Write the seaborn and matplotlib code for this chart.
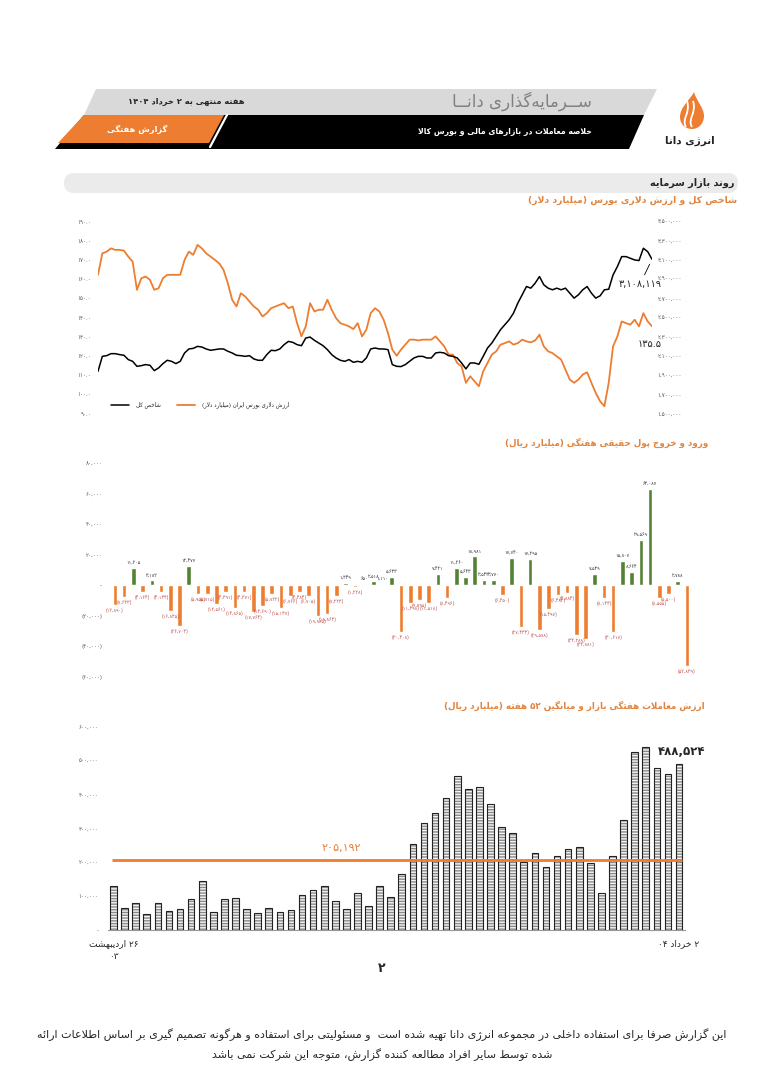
import re
import numpy as np
import pandas as pd
import seaborn as sns
import matplotlib.pyplot as plt
from matplotlib.path import Path
from matplotlib.patches import Polygon, PathPatch, FancyBboxPatch, Rectangle
from matplotlib.ticker import FuncFormatter, MultipleLocator

# ---------------- data ----------------
# total index (thousands of points), right axis
index_k = [1940, 2096, 2103, 2124, 2124, 2114, 2107, 2062, 2044, 1992,
           1999, 2010, 2003, 1947, 1975, 2020, 2055, 2044, 2020, 2044,
           2131, 2173, 2179, 2200, 2193, 2173, 2159, 2166, 2173, 2173,
           2149, 2131, 2107, 2103, 2096, 2103, 2069, 2055, 2055, 2114,
           2159, 2155, 2173, 2218, 2252, 2242, 2218, 2207, 2287, 2297,
           2263, 2235, 2207, 2166, 2114, 2079, 2055, 2044, 2062, 2034,
           2044, 2034, 2079, 2173, 2183, 2173, 2173, 2166, 2010, 1992,
           1989, 2010, 2044, 2079, 2096, 2096, 2079, 2079, 2131, 2138,
           2131, 2103, 2096, 2079, 2027, 1965, 2027, 2027, 2013, 2096,
           2183, 2235, 2304, 2374, 2426, 2478, 2547, 2651, 2738, 2824,
           2807, 2859, 2928, 2842, 2807, 2790, 2807, 2790, 2807, 2755,
           2703, 2738, 2790, 2824, 2755, 2703, 2727, 2790, 2796, 2945,
           3032, 3136, 3136, 3119, 3101, 3095, 3223, 3188, 3108.119]
# dollar value of the Iranian bourse (billion USD), left axis
dollar_value = [162.3, 173.5, 174.4, 176.1, 175.3, 175.3, 174.9, 171.8, 169.2, 154.5,
                160.5, 161.4, 159.7, 154.5, 155.3, 160.5, 162.3, 162.3, 162.3, 162.3,
                170.1, 174.4, 172.7, 177.9, 176.1, 173.5, 171.8, 170.1, 168.3, 164.9,
                157.9, 149.3, 145.8, 152.7, 151.0, 148.4, 145.8, 144.1, 140.6, 142.3,
                144.9, 145.8, 146.7, 147.5, 144.9, 145.8, 137.1, 130.2, 135.4, 147.5,
                143.2, 144.1, 144.1, 149.3, 144.1, 139.7, 137.1, 136.3, 135.4, 134.0,
                137.1, 130.2, 133.7, 142.3, 144.9, 143.2, 138.9, 131.9, 123.3, 120.1,
                123.3, 125.9, 128.5, 128.5, 128.1, 128.5, 128.5, 128.5, 130.2, 127.6,
                125.0, 120.7, 120.7, 116.3, 114.6, 106.0, 109.4, 106.8, 104.2, 112.0,
                116.3, 120.7, 122.4, 125.9, 126.7, 127.6, 125.9, 126.7, 128.5, 127.6,
                127.1, 128.1, 131.1, 125.0, 122.4, 121.5, 119.8, 118.1, 112.9, 107.7,
                106.0, 107.7, 110.3, 111.5, 106.0, 100.7, 96.4, 93.8, 106.0, 125.0,
                130.2, 138.0, 137.1, 136.3, 138.9, 135.4, 142.3, 138.0, 135.5]
left_ticks = [90, 100, 110, 120, 130, 140, 150, 160, 170, 180, 190]
right_ticks = [1_500_000, 1_700_000, 1_900_000, 2_100_000, 2_300_000, 2_500_000,
               2_700_000, 2_900_000, 3_100_000, 3_300_000, 3_500_000]

# weekly retail money flow (billion rials)
flow_values = [-12890, -7633, 11205, -4164, 3182, -4134, -16835, -26703, 12477, -5955,
               -5715, -12561, -4391, -14865, -4371, -17764, -13690, -5722, -15137, -6766,
               -4484, -6705, -19885, -18863, -7223, 1349, -1228, 650, 2518, 1110,
               5633, -30408, -11498, -9795, -11518, 7421, -8496, 11260, 5643, 18981,
               3543, 3770, -6450, 17740, -27433, 17295, -29578, -15497, -6484, -4884,
               -32288, -34881, 7539, -8133, -30617, 15807, 8664, 29569, 63087, -8555,
               -5500, 2788, -52839]

# weekly trade value (billion rials) and its 52-week mean
trade_values = [130800, 63900, 78700, 47200, 80600, 56000, 62000, 91400, 144500, 54100,
                91400, 93400, 61000, 49200, 65900, 54100, 59000, 103200, 118000, 130800,
                86500, 61000, 108200, 69800, 129800, 98300, 164000, 253700, 314700, 346100,
                388400, 455300, 415900, 420800, 370700, 302800, 285100, 201600, 226200, 186800,
                218300, 237900, 245800, 196700, 108200, 218300, 324500, 524100, 540800, 478900,
                460200, 488524]
trade_avg = 205192
first_week = '۲۶ اردیبهشت'
first_year = '۰۳'
last_week = '۲ خرداد ۰۴'

ORANGE = '#ed7d31'
GREEN = '#548235'
TITLE = '#e2843d'
RED = '#c0504d'
TICK = '#595959'

# ---------------- tiny arabic shaper (matplotlib has no shaping / bidi) ----------------
DUAL = {'ئ': 0xFE89, 'ب': 0xFE8F, 'ت': 0xFE95, 'ث': 0xFE99, 'ج': 0xFE9D, 'ح': 0xFEA1,
        'خ': 0xFEA5, 'س': 0xFEB1, 'ش': 0xFEB5, 'ص': 0xFEB9, 'ض': 0xFEBD, 'ط': 0xFEC1,
        'ظ': 0xFEC5, 'ع': 0xFEC9, 'غ': 0xFECD, 'ف': 0xFED1, 'ق': 0xFED5, 'ك': 0xFED9,
        'ل': 0xFEDD, 'م': 0xFEE1, 'ن': 0xFEE5, 'ه': 0xFEE9, 'ي': 0xFEF1, 'پ': 0xFB56,
        'چ': 0xFB7A, 'ک': 0xFB8E, 'گ': 0xFB92, 'ی': 0xFBFC}
RIGHT = {'آ': 0xFE81, 'أ': 0xFE83, 'ؤ': 0xFE85, 'إ': 0xFE87, 'ا': 0xFE8D, 'ة': 0xFE93,
         'د': 0xFEA9, 'ذ': 0xFEAB, 'ر': 0xFEAD, 'ز': 0xFEAF, 'و': 0xFEED, 'ى': 0xFEEF,
         'ژ': 0xFB8A}
TATWEEL = 'ـ'
FA_DIGITS = str.maketrans('0123456789', '۰۱۲۳۴۵۶۷۸۹')
MIRROR = str.maketrans('()', ')(')
NUM = re.compile(r'([0-9۰-۹][0-9۰-۹,.]*[0-9۰-۹]|[0-9۰-۹])')


def joins_next(c):
    return c in DUAL or c == TATWEEL


def joins_prev(c):
    return c in DUAL or c in RIGHT or c == TATWEEL


def shape(s):
    out, i, n = [], 0, len(s)
    while i < n:
        c = s[i]
        prev = s[i - 1] if i > 0 else ''
        cp = bool(prev) and joins_next(prev) and joins_prev(c)
        if c == 'ل' and i + 1 < n and s[i + 1] in 'اآ':
            base = 0xFEFB if s[i + 1] == 'ا' else 0xFEF5
            out.append(chr(base + (1 if cp else 0)))
            i += 2
            continue
        nxt = s[i + 1] if i + 1 < n else ''
        cn = bool(nxt) and joins_next(c) and joins_prev(nxt)
        if c in DUAL:
            form = 3 if (cp and cn) else 1 if cp else 2 if cn else 0
            out.append(chr(DUAL[c] + form))
        elif c in RIGHT:
            out.append(chr(RIGHT[c] + (1 if cp else 0)))
        elif c != '\u200c':
            out.append(c)
        i += 1
    return ''.join(out)


def fa(s):
    parts = NUM.split(shape(s.translate(FA_DIGITS)))
    vis = [p if k % 2 else p[::-1].translate(MIRROR) for k, p in enumerate(parts)]
    return ''.join(vis[::-1])


def fa_num(s):
    return s.translate(FA_DIGITS)


# ---------------- page ----------------
sns.set_style('white')
plt.rcParams['font.family'] = ['DejaVu Sans']

fig = plt.figure(figsize=(7.64, 10.8), dpi=100)
bg = fig.add_axes([0, 0, 1, 1], zorder=0)
bg.set_xlim(0, 764)
bg.set_ylim(1080, 0)
bg.axis('off')


def px_axes(x0, y0, x1, y1):
    ax = fig.add_axes([x0 / 764, 1 - y1 / 1080, (x1 - x0) / 764, (y1 - y0) / 1080], zorder=1)
    ax.patch.set_alpha(0)
    return ax


# header bands
bg.add_patch(Polygon([(96, 89), (657, 89), (644, 115), (84, 115)], fc='#d9d9d9', ec='none'))
bg.add_patch(Polygon([(84, 115), (644, 115), (629, 149), (55, 149)], fc='black', ec='none'))
bg.add_patch(Polygon([(84, 115), (224, 115), (209, 143), (58, 143)], fc=ORANGE, ec='none'))
bg.plot([227, 210], [115, 147], color='white', lw=1.6)
bg.text(186, 102, fa('هفته منتهی به ۲ خرداد ۱۴۰۴'), ha='center', va='center',
        fontsize=6, fontweight='bold')
bg.text(522, 101, fa('ســرمایه\u200cگذاری دانــا'), ha='center', va='center',
        fontsize=12, color='#808080')
bg.text(137, 129, fa('گزارش هفتگی'), ha='center', va='center', fontsize=6,
        fontweight='bold', color='white')
bg.text(505, 131, fa('خلاصه معاملات در بازارهای مالی و بورس کالا'), ha='center',
        va='center', fontsize=5.6, fontweight='bold', color='white')

# logo
C4 = Path.CURVE4
flame = Path([(692, 129), (699, 129), (704, 123), (704, 116),
              (704, 108), (697, 102), (694, 92),
              (690, 100), (680, 107), (680, 117),
              (680, 124), (685, 129), (692, 129)],
             [Path.MOVETO, C4, C4, C4, C4, C4, C4, C4, C4, C4, C4, C4, C4])
bg.add_patch(PathPatch(flame, fc=ORANGE, ec='none'))
for dx in (-4, 2):
    sw = Path([(690 + dx, 127), (685 + dx, 119), (695 + dx, 113), (691 + dx, 101)],
              [Path.MOVETO, C4, C4, C4])
    bg.add_patch(PathPatch(sw, fc='none', ec='white', lw=1.3))
bg.text(690, 141, fa('انرژی دانا'), ha='center', va='center', fontsize=7.5,
        fontweight='bold', color='#222222')

# section bar
bg.add_patch(FancyBboxPatch((64, 173), 674, 20, boxstyle='round,pad=0,rounding_size=10',
                            fc='#ebebeb', ec='none'))
bg.text(734, 183, fa('روند بازار سرمایه'), ha='right', va='center', fontsize=7,
        fontweight='bold')

# chart titles
bg.text(737, 200, fa('شاخص کل و ارزش دلاری بورس (میلیارد دلار)'), ha='right', va='center',
        fontsize=6.7, fontweight='bold', color=TITLE)
bg.text(708, 443, fa('ورود و خروج پول حقیقی هفتگی (میلیارد ریال)'), ha='right', va='center',
        fontsize=6.3, fontweight='bold', color=TITLE)
bg.text(705, 706, fa('ارزش معاملات هفتگی بازار و میانگین ۵۲ هفته (میلیارد ریال)'),
        ha='right', va='center', fontsize=6.3, fontweight='bold', color=TITLE)

# ---------------- chart 1: index and dollar value ----------------
ax1 = px_axes(98, 221.7, 652, 413.5)
days = np.arange(len(dollar_value))
sns.lineplot(x=days, y=dollar_value, ax=ax1, color=ORANGE, lw=1.3)
ax1b = ax1.twinx()
ax1b.patch.set_alpha(0)
sns.lineplot(x=np.arange(len(index_k)), y=np.array(index_k) * 1000, ax=ax1b,
             color='black', lw=1.1)
ax1.set_xlim(0, len(dollar_value) - 1)
ax1.set_ylim(left_ticks[0], left_ticks[-1])
ax1b.set_ylim(right_ticks[0], right_ticks[-1])
ax1.set_yticks(left_ticks)
ax1b.set_yticks(right_ticks)
ax1.yaxis.set_major_formatter(FuncFormatter(lambda v, p: fa_num(f'{v:.1f}')))
ax1b.yaxis.set_major_formatter(FuncFormatter(lambda v, p: fa_num(f'{v:,.0f}')))
for a, pad in ((ax1, 5), (ax1b, 4)):
    a.tick_params(axis='y', length=0, labelsize=4, labelcolor=TICK, pad=pad)
    a.set_xticks([])
    a.set_ylabel('')
    for s in a.spines.values():
        s.set_visible(False)
ax1.legend(handles=[ax1b.lines[0], ax1.lines[0]],
           labels=[fa('شاخص کل'), fa('ارزش دلاری بورس ایران (میلیارد دلار)')],
           ncol=2, loc='center left', bbox_to_anchor=(0.015, 0.045), frameon=False,
           fontsize=4, handlelength=3.2, columnspacing=3, handletextpad=1.2)
ax1b.annotate(fa_num(f'{index_k[-1] * 1000:,.0f}'), xy=(len(index_k) - 1, index_k[-1] * 1000),
              xytext=(-12, -25), textcoords='offset pixels', ha='center', va='center',
              fontsize=7, arrowprops=dict(arrowstyle='-', lw=0.6, color='black',
                                          shrinkA=1, shrinkB=4))
ax1.annotate(fa_num(f'{dollar_value[-1]:.1f}'), xy=(len(dollar_value) - 1, dollar_value[-1]),
             xytext=(-2, -18), textcoords='offset pixels', ha='center', va='center',
             fontsize=7)

# ---------------- chart 2: weekly money flow ----------------
ax2 = px_axes(105, 463, 695, 677)
flow_df = pd.DataFrame({'week': np.arange(len(flow_values)), 'flow': flow_values})
flow_df['dir'] = np.where(flow_df['flow'] >= 0, 'in', 'out')
sns.barplot(data=flow_df, x='week', y='flow', hue='dir', palette={'in': GREEN, 'out': ORANGE},
            dodge=False, width=0.5, saturation=1, legend=False, ax=ax2)
ax2.set_xlim(-1.08, len(flow_values) - 1 + 0.87)
ax2.set_ylim(-60000, 80000)
ax2.yaxis.set_major_locator(MultipleLocator(20000))


def flow_fmt(v, p):
    if abs(v) < 1:
        return '-'
    return fa_num(f'{v:,.0f}') if v > 0 else fa_num(f'({-v:,.0f})')


ax2.yaxis.set_major_formatter(FuncFormatter(flow_fmt))
ax2.tick_params(axis='y', length=0, labelsize=4, labelcolor=TICK, pad=2)
ax2.set_xticks([])
ax2.set_xlabel('')
ax2.set_ylabel('')
for s in ax2.spines.values():
    s.set_visible(False)
for i, v in enumerate(flow_values):
    if v >= 0:
        ax2.annotate(fa_num(f'{v:,}'), xy=(i, v), xytext=(0, 3), textcoords='offset pixels',
                     ha='center', va='bottom', fontsize=3.4, color='#333333')
    else:
        ax2.annotate(fa_num(f'({-v:,})'), xy=(i, v), xytext=(0, -3), textcoords='offset pixels',
                     ha='center', va='top', fontsize=3.4, color=RED)

# ---------------- chart 3: weekly trade value ----------------
ax3 = px_axes(108, 726.7, 685, 930)
trade_df = pd.DataFrame({'week': np.arange(len(trade_values)), 'value': trade_values})
sns.barplot(data=trade_df, x='week', y='value', color='#f4f4f4', saturation=1, width=0.6,
            edgecolor='#8a8a8a', linewidth=0, ax=ax3)
for bar in list(ax3.patches):
    bar.set_hatch('------')
    ax3.add_patch(Rectangle(bar.get_xy(), bar.get_width(), bar.get_height(),
                            fill=False, ec='#222222', lw=0.8, zorder=3))
ax3.hlines(trade_avg, -0.15, len(trade_values) - 1 + 0.3, color=ORANGE, lw=2, zorder=4)
ax3.set_xlim(-0.42, len(trade_values) - 1 + 0.54)
ax3.set_ylim(0, 600000)
ax3.yaxis.set_major_locator(MultipleLocator(100000))
ax3.yaxis.set_major_formatter(FuncFormatter(lambda v, p: '-' if v == 0 else fa_num(f'{v:,.0f}')))
ax3.tick_params(axis='y', length=0, labelsize=4, labelcolor=TICK, pad=7)
ax3.set_xticks(np.arange(len(trade_values) + 1) - 0.5)
ax3.tick_params(axis='x', length=2, width=0.5, color='#999999', labelbottom=False)
ax3.set_xlabel('')
ax3.set_ylabel('')
for name, s in ax3.spines.items():
    s.set_visible(name == 'bottom')
ax3.spines['bottom'].set_color('#999999')
ax3.spines['bottom'].set_linewidth(0.8)
ax3.annotate(fa_num(f'{trade_avg:,}'), xy=(20.5, trade_avg), xytext=(0, 12),
             textcoords='offset pixels', ha='center', va='center', fontsize=8, color=ORANGE)
ax3.annotate(fa_num(f'{trade_values[-1]:,}'), xy=(len(trade_values) - 1, trade_values[-1]),
             xytext=(3, 13), textcoords='offset pixels', ha='center', va='center',
             fontsize=8.5, fontweight='bold')
ax3.annotate(fa(first_week) + '\n' + fa_num(first_year), xy=(0, 0), xytext=(0, -9),
             textcoords='offset pixels', ha='center', va='top', fontsize=6.5,
             linespacing=1.6, annotation_clip=False)
ax3.annotate(fa(last_week), xy=(len(trade_values) - 1, 0), xytext=(0, -9),
             textcoords='offset pixels', ha='center', va='top', fontsize=6.5,
             annotation_clip=False)

# page number and disclaimer
bg.text(382, 968, '۲', ha='center', va='center', fontsize=9, fontweight='bold')
bg.text(382, 1035, fa('این گزارش صرفا برای استفاده داخلی در مجموعه انرژی دانا تهیه شده است  '
                      'و مسئولیتی برای استفاده و هرگونه تصمیم گیری بر اساس اطلاعات ارائه'),
        ha='center', va='center', fontsize=8)
bg.text(382, 1055, fa('شده توسط سایر افراد مطالعه کننده گزارش، متوجه این شرکت نمی باشد'),
        ha='center', va='center', fontsize=8)

fig.savefig('out.png', dpi=100)
